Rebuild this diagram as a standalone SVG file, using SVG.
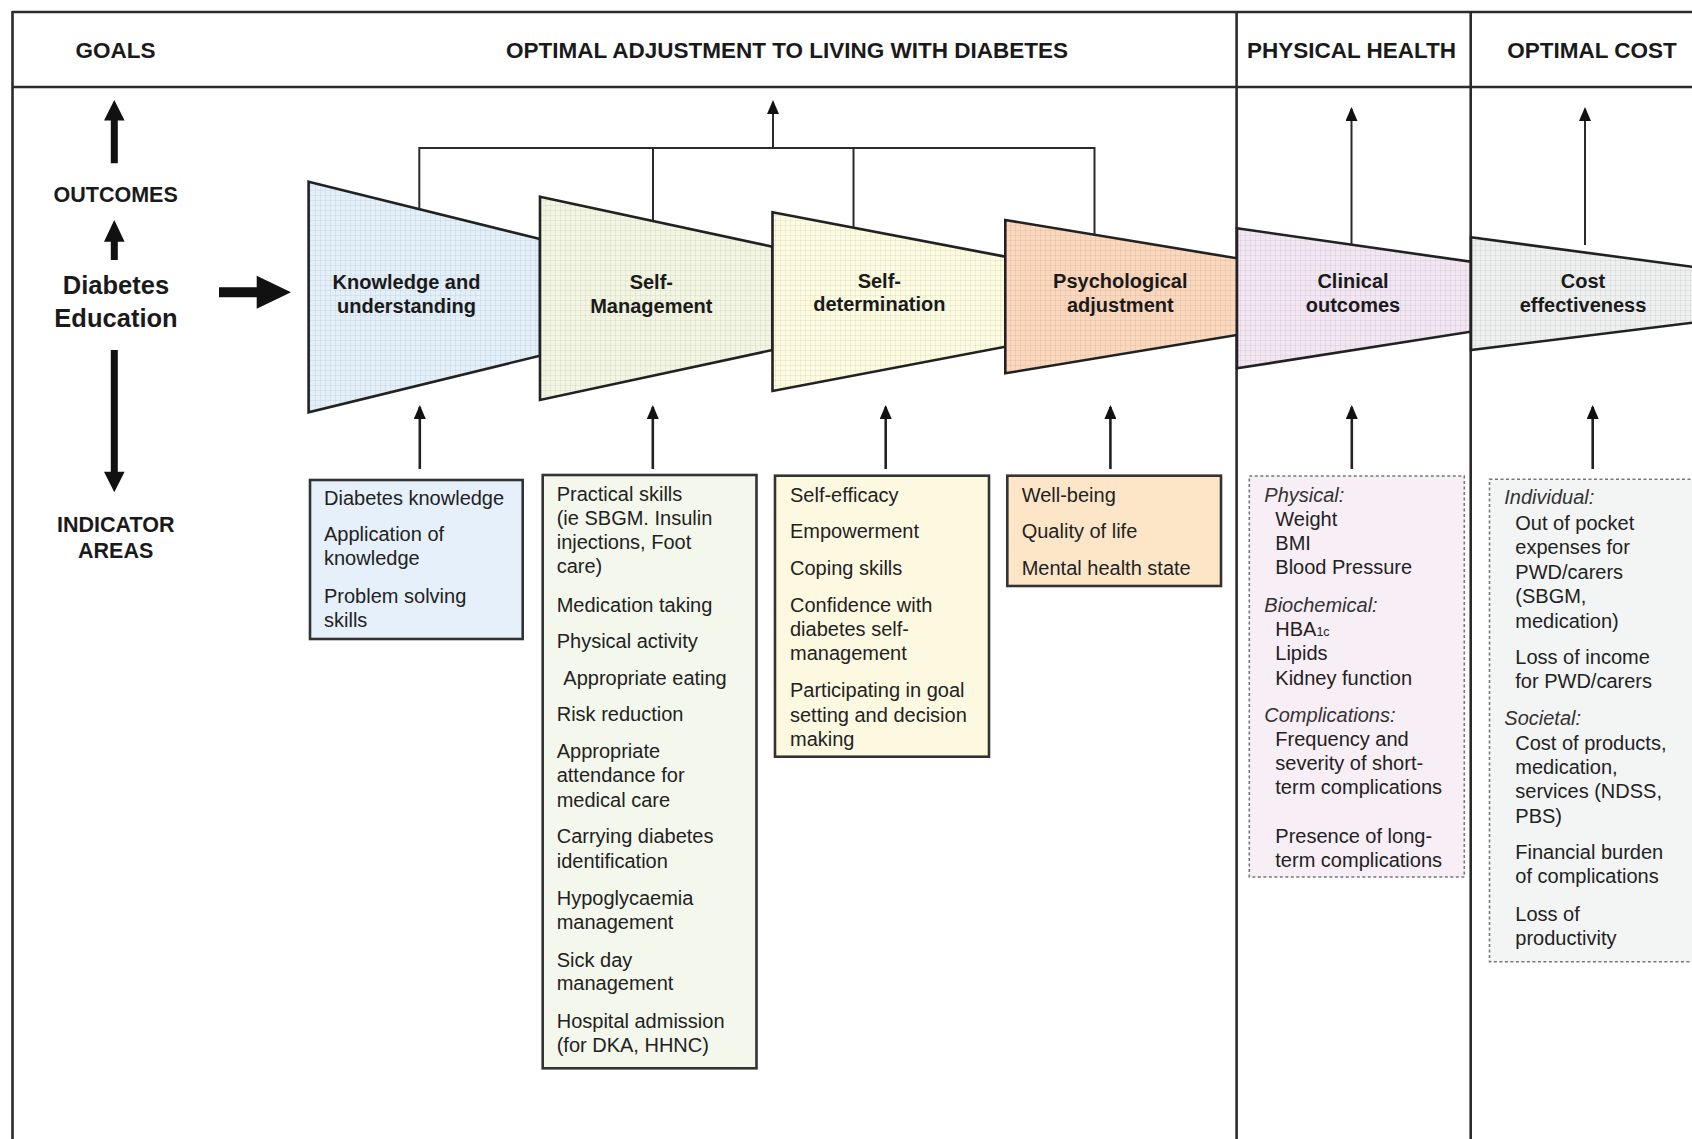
<svg xmlns="http://www.w3.org/2000/svg" width="1692" height="1139" viewBox="0 0 1692 1139">
<defs>
<style>
.frame{stroke:#2b2b2b;stroke-width:2.6;fill:none}
.hdr{font-family:"Liberation Sans",Arial,sans-serif;font-weight:bold;font-size:22.5px;fill:#1a1a1a;text-anchor:middle}
.lbl{font-family:"Liberation Sans",Arial,sans-serif;font-weight:bold;font-size:21.5px;fill:#1a1a1a;text-anchor:middle}
.big{font-family:"Liberation Sans",Arial,sans-serif;font-weight:bold;font-size:25.5px;fill:#1a1a1a;text-anchor:middle}
.tz{stroke:#222;stroke-width:2.6;stroke-linejoin:miter}
.tzt{font-family:"Liberation Sans",Arial,sans-serif;font-weight:bold;font-size:20px;fill:#1a1a1a;text-anchor:middle}
.box{stroke:#333;stroke-width:2.6}
.dbox{stroke:#777;stroke-width:1.6;stroke-dasharray:3 2.5}
.t{font-family:"Liberation Sans",Arial,sans-serif;font-size:20px;fill:#222}
.it{font-family:"Liberation Sans",Arial,sans-serif;font-size:20px;font-style:italic;fill:#333}
.conn{stroke:#2b2b2b;stroke-width:2;fill:none}
.ind{stroke:#222;stroke-width:2.6;fill:none}
.thick{fill:#111}
</style>
<pattern id="grid" width="5" height="5" patternUnits="userSpaceOnUse">
<path d="M0 0.5H5M0.5 0V5" stroke="#000" stroke-opacity="0.05" stroke-width="1"/>
</pattern>
<marker id="ah" markerUnits="userSpaceOnUse" markerWidth="14" markerHeight="12" refX="12" refY="6" orient="auto" viewBox="0 0 14 12">
<path d="M0 0L14 6L0 12Z" fill="#111"/>
</marker>
</defs>

<!-- frame -->
<g id="frame">
<line class="frame" x1="12" y1="12" x2="1692" y2="12"/>
<line class="frame" x1="12.5" y1="11" x2="12.5" y2="1139"/>
<line class="frame" x1="12" y1="87" x2="1692" y2="87"/>
<line class="frame" x1="1236.6" y1="11" x2="1236.6" y2="1139"/>
<line class="frame" x1="1470.7" y1="11" x2="1470.7" y2="1139"/>
</g>

<g id="headers">
<text class="hdr" x="115.5" y="58">GOALS</text>
<text class="hdr" x="787" y="58">OPTIMAL ADJUSTMENT TO LIVING WITH DIABETES</text>
<text class="hdr" x="1351.5" y="58">PHYSICAL HEALTH</text>
<text class="hdr" x="1592" y="58">OPTIMAL COST</text>
</g>

<g id="left-column">
<text class="lbl" x="115.7" y="201.7">OUTCOMES</text>
<text class="big" x="116" y="294">Diabetes</text>
<text class="big" x="116" y="327.3">Education</text>
<text class="lbl" x="115.7" y="531.7">INDICATOR</text>
<text class="lbl" x="115.7" y="558.3">AREAS</text>
<path class="thick" d="M110.8 163.3V120.5H104L114.3 100L124.6 120.5H117.8V163.3Z"/>
<path class="thick" d="M110.8 260V241.7H104L114.3 220L124.6 241.7H117.8V260Z"/>
<path class="thick" d="M110.8 350V471.7H104L114.3 492.3L124.6 471.7H117.8V350Z"/>
<path class="thick" d="M219 287.3H256.7V275.8L291 292.3L256.7 308.8V297.3H219Z"/>
</g>

<!-- trapezoid nodes -->
<g id="node-knowledge">
<polygon class="tz" fill="#e3eff9" points="308.6,181.7 540,239 540,355.7 308.6,412.3"/>
<polygon fill="url(#grid)" points="308.6,181.7 540,239 540,355.7 308.6,412.3"/>
<text class="tzt" x="406.5" y="289">Knowledge and</text>
<text class="tzt" x="406.5" y="312.7">understanding</text>
</g>
<g id="node-selfmanagement">
<polygon class="tz" fill="#f1f5e1" points="540,196.7 772.5,246.7 772.5,350 540,400"/>
<polygon fill="url(#grid)" points="540,196.7 772.5,246.7 772.5,350 540,400"/>
<text class="tzt" x="651.3" y="289">Self-</text>
<text class="tzt" x="651.3" y="312.7">Management</text>
</g>
<g id="node-selfdetermination">
<polygon class="tz" fill="#fdfbe0" points="772.5,212.3 1005.3,256.7 1005.3,346.7 772.5,391"/>
<polygon fill="url(#grid)" points="772.5,212.3 1005.3,256.7 1005.3,346.7 772.5,391"/>
<text class="tzt" x="879.3" y="287.7">Self-</text>
<text class="tzt" x="879.3" y="310.7">determination</text>
</g>
<g id="node-psychological">
<polygon class="tz" fill="#fbd8bd" points="1005.3,220 1237,258.3 1237,335 1005.3,373.3"/>
<polygon fill="url(#grid)" points="1005.3,220 1237,258.3 1237,335 1005.3,373.3"/>
<text class="tzt" x="1120.3" y="288.3">Psychological</text>
<text class="tzt" x="1120.3" y="311.7">adjustment</text>
</g>
<g id="node-clinical">
<polygon class="tz" fill="#f3e6f3" points="1237,228.3 1470.7,261.7 1470.7,331.7 1237,368.3"/>
<polygon fill="url(#grid)" points="1237,228.3 1470.7,261.7 1470.7,331.7 1237,368.3"/>
<text class="tzt" x="1353" y="288.3">Clinical</text>
<text class="tzt" x="1353" y="311.7">outcomes</text>
</g>
<g id="node-cost">
<polygon class="tz" fill="#eef0f0" points="1471,237.3 1720,270.5 1720,319.3 1471,350"/>
<polygon fill="url(#grid)" points="1471,237.3 1720,270.5 1720,319.3 1471,350"/>
<text class="tzt" x="1583" y="288.3">Cost</text>
<text class="tzt" x="1583" y="311.7">effectiveness</text>
</g>

<!-- connectors -->
<g id="connectors">
<path class="conn" d="M419.3 209V148H1094.5V234.5"/>
<line class="conn" x1="653" y1="148" x2="653" y2="221"/>
<line class="conn" x1="853.5" y1="148" x2="853.5" y2="227.5"/>
<line class="conn" x1="773" y1="148" x2="773" y2="102" marker-end="url(#ah)"/>
<line class="conn" x1="1351.5" y1="244.5" x2="1351.5" y2="109" marker-end="url(#ah)"/>
<line class="conn" x1="1585" y1="245" x2="1585" y2="109" marker-end="url(#ah)"/>
<line class="ind" x1="419.8" y1="469" x2="419.8" y2="407" marker-end="url(#ah)"/>
<line class="ind" x1="652.8" y1="469" x2="652.8" y2="407" marker-end="url(#ah)"/>
<line class="ind" x1="885.7" y1="469" x2="885.7" y2="407" marker-end="url(#ah)"/>
<line class="ind" x1="1110.4" y1="469" x2="1110.4" y2="407" marker-end="url(#ah)"/>
<line class="ind" x1="1351.8" y1="469" x2="1351.8" y2="407" marker-end="url(#ah)"/>
<line class="ind" x1="1592.7" y1="469" x2="1592.7" y2="407" marker-end="url(#ah)"/>
</g>

<!-- indicator boxes -->
<g id="box-knowledge">
<rect class="box" fill="#e5f0fa" x="310" y="480" width="212.7" height="159"/>
<text class="t" x="324" y="505">Diabetes knowledge</text>
<text class="t" x="324" y="541">Application of</text>
<text class="t" x="324" y="565.3">knowledge</text>
<text class="t" x="324" y="603.3">Problem solving</text>
<text class="t" x="324" y="626.7">skills</text>
</g>
<g id="box-selfmanagement">
<rect class="box" fill="#f4f7ec" x="542.7" y="475" width="213.8" height="593.3"/>
<text class="t" x="556.7" y="500.7">Practical skills</text>
<text class="t" x="556.7" y="525">(ie SBGM. Insulin</text>
<text class="t" x="556.7" y="549.3">injections, Foot</text>
<text class="t" x="556.7" y="573.3">care)</text>
<text class="t" x="556.7" y="611.7">Medication taking</text>
<text class="t" x="556.7" y="648.3">Physical activity</text>
<text class="t" x="563.3" y="685">Appropriate eating</text>
<text class="t" x="556.7" y="721">Risk reduction</text>
<text class="t" x="556.7" y="757.7">Appropriate</text>
<text class="t" x="556.7" y="781.7">attendance for</text>
<text class="t" x="556.7" y="806.7">medical care</text>
<text class="t" x="556.7" y="843.3">Carrying diabetes</text>
<text class="t" x="556.7" y="867.7">identification</text>
<text class="t" x="556.7" y="905">Hypoglycaemia</text>
<text class="t" x="556.7" y="929">management</text>
<text class="t" x="556.7" y="966.7">Sick day</text>
<text class="t" x="556.7" y="990">management</text>
<text class="t" x="556.7" y="1027.7">Hospital admission</text>
<text class="t" x="556.7" y="1051.7">(for DKA, HHNC)</text>
</g>
<g id="box-selfdetermination">
<rect class="box" fill="#fdf9e1" x="775" y="475.7" width="214" height="281"/>
<text class="t" x="790" y="501.7">Self-efficacy</text>
<text class="t" x="790" y="538.3">Empowerment</text>
<text class="t" x="790" y="575">Coping skills</text>
<text class="t" x="790" y="611.7">Confidence with</text>
<text class="t" x="790" y="636">diabetes self-</text>
<text class="t" x="790" y="660">management</text>
<text class="t" x="790" y="697.3">Participating in goal</text>
<text class="t" x="790" y="721.7">setting and decision</text>
<text class="t" x="790" y="745.7">making</text>
</g>
<g id="box-psychological">
<rect class="box" fill="#fde6c8" x="1007.3" y="475.7" width="213.7" height="110.3"/>
<text class="t" x="1021.7" y="501.7">Well-being</text>
<text class="t" x="1021.7" y="538.3">Quality of life</text>
<text class="t" x="1021.7" y="575">Mental health state</text>
</g>
<g id="box-clinical">
<rect class="dbox" fill="#f8eef6" x="1249.3" y="476" width="215" height="401"/>
<text class="it" x="1264.3" y="501.7">Physical:</text>
<text class="t" x="1275.3" y="525.7">Weight</text>
<text class="t" x="1275.3" y="550">BMI</text>
<text class="t" x="1275.3" y="574.3">Blood Pressure</text>
<text class="it" x="1264.3" y="611.7">Biochemical:</text>
<text class="t" x="1275.3" y="635.7">HBA<tspan font-size="12.5px">1c</tspan></text>
<text class="t" x="1275.3" y="660">Lipids</text>
<text class="t" x="1275.3" y="685">Kidney function</text>
<text class="it" x="1264.3" y="721.7">Complications:</text>
<text class="t" x="1275.3" y="746">Frequency and</text>
<text class="t" x="1275.3" y="770">severity of short-</text>
<text class="t" x="1275.3" y="794.3">term complications</text>
<text class="t" x="1275.3" y="843.3">Presence of long-</text>
<text class="t" x="1275.3" y="867.3">term complications</text>
</g>
<g id="box-cost">
<rect class="dbox" fill="#f3f4f4" x="1489.5" y="479.3" width="230" height="482.4"/>
<text class="it" x="1504.3" y="504.3">Individual:</text>
<text class="t" x="1515.3" y="530">Out of pocket</text>
<text class="t" x="1515.3" y="554.3">expenses for</text>
<text class="t" x="1515.3" y="579">PWD/carers</text>
<text class="t" x="1515.3" y="603.3">(SBGM,</text>
<text class="t" x="1515.3" y="627.7">medication)</text>
<text class="t" x="1515.3" y="664">Loss of income</text>
<text class="t" x="1515.3" y="688.3">for PWD/carers</text>
<text class="it" x="1504.3" y="725">Societal:</text>
<text class="t" x="1515.3" y="750">Cost of products,</text>
<text class="t" x="1515.3" y="774.3">medication,</text>
<text class="t" x="1515.3" y="798.3">services (NDSS,</text>
<text class="t" x="1515.3" y="822.7">PBS)</text>
<text class="t" x="1515.3" y="859.3">Financial burden</text>
<text class="t" x="1515.3" y="883.3">of complications</text>
<text class="t" x="1515.3" y="921">Loss of</text>
<text class="t" x="1515.3" y="945">productivity</text>
</g>
</svg>
